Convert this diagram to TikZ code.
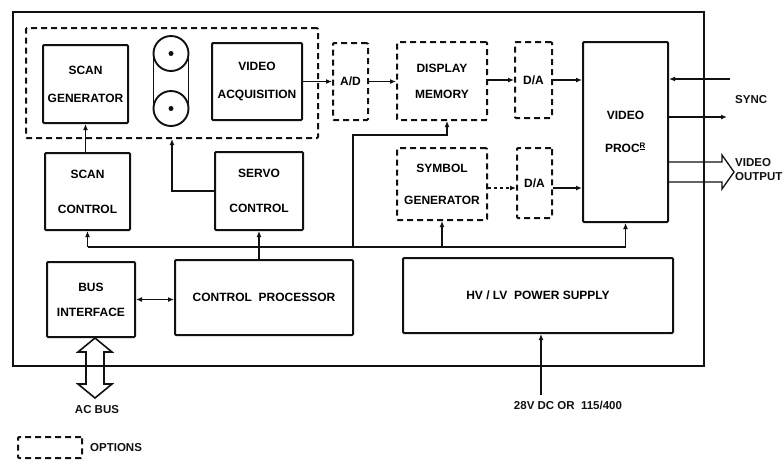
\documentclass[tikz,border=0pt]{standalone}
\usepackage{fontspec}
\setmainfont{Liberation Sans}
\usepackage{tikz}
\usetikzlibrary{arrows.meta, positioning, calc}
\definecolor{Ink}{HTML}{111111}

\begin{document}
\begin{tikzpicture}[x=1pt, y=-1pt,
    blk/.style={draw=Ink, line width=2pt, rounded corners=1pt, align=center, inner sep=0pt,
                font=\fontsize{12}{28}\selectfont\bfseries},
    opt/.style={blk, dash pattern=on 6pt off 4pt},
    ln/.style={draw=Ink, line width=1.3pt},
    tip/.style={ln, -{Latex[length=6pt, width=5pt]}},
    lbl/.style={font=\fontsize{11.5}{14}\selectfont\bfseries, align=left, inner sep=0pt, text=Ink}]
                \useasboundingbox (0,0) rectangle (784,459);

                % Outer unit frame
                \draw[ln, line width=1.6pt] (13,12) rectangle (704,366);

                % Optional sensor group
                \node[opt, minimum width=292pt, minimum height=110pt] (optbox) at (172,83) {};
                \node[blk, minimum width=85pt, minimum height=78pt] (scangen) at (85.5,84) {SCAN\\GENERATOR};
                \node[blk, minimum width=90pt, minimum height=77pt] (videoacq) at (257,81.5) {VIDEO\\ACQUISITION};

                % Tape reels
                \draw[ln, line width=1.9pt] (171,53.5) circle (17.5);
                \draw[ln, line width=1.9pt] (171,108.5) circle (17.5);
                \draw[ln, line width=1.9pt] (153.5,53.5) -- (153.5,108.5);
                \draw[ln, line width=1.9pt] (188.5,53.5) -- (188.5,108.5);
                \fill[Ink] (171,53.5) circle (2.5);
                \fill[Ink] (171,108.5) circle (2.5);

                % Video chain
                \node[opt, minimum width=35pt, minimum height=77pt] (ad) at (350.5,81.5) {A/D};
                \node[opt, minimum width=90pt, minimum height=78pt] (dispmem) at (442,81) {DISPLAY\\[-2pt]MEMORY};
                \node[opt, minimum width=37pt, minimum height=76pt] (da1) at (533.5,80) {D/A};
                \node[blk, minimum width=85pt, minimum height=180pt] (vproc) at (625.5,132) {VIDEO\\[5pt]PROC\textsuperscript{\underline{R}}};
                \node[opt, minimum width=90pt, minimum height=72pt] (symgen) at (442,184) {SYMBOL\\[4pt]GENERATOR};
                \node[opt, minimum width=35pt, minimum height=70pt] (da2) at (534.5,183) {D/A};

                % Signal path
                \coordinate (s2i) at ($(symgen.east)+(0,4)$);
                \coordinate (d2o) at ($(da2.east)+(0,5)$);
                \draw[tip] (videoacq.east) -- (ad.west);
                \draw[tip] (ad.east) -- (ad.east -| dispmem.west);
                \draw[tip] (dispmem.east |- da1.west) -- (da1.west);
                \draw[tip] (da1.east) -- (da1.east -| vproc.west);
                \draw[tip, dashed] (s2i) -- (s2i -| da2.west);
                \draw[tip] (d2o) -- (d2o -| vproc.west);

                % Control side
                \node[blk, minimum width=85pt, minimum height=77pt] (scanctl) at (87.5,191.5) {SCAN\\[7pt]CONTROL};
                \node[blk, minimum width=88pt, minimum height=78pt] (servoctl) at (259,191) {SERVO\\[7pt]CONTROL};
                \node[blk, minimum width=88pt, minimum height=75pt] (busif) at (91,299.5) {BUS\\[-3pt]INTERFACE};
                \node[blk, minimum width=178pt, minimum height=75pt] (ctlproc) at (264,297.5) {CONTROL\ \ PROCESSOR};
                \node[blk, minimum width=270pt, minimum height=75pt] (power) at (538,295.5) {HV / LV\ \ POWER SUPPLY};

                % Sync and video out
                \coordinate (sync1) at (730,79);
                \coordinate (sync2) at (727,117);
                \draw[tip] (sync1) -- (sync1 -| vproc.east);
                \draw[tip] (vproc.east |- sync2) -- (sync2);
                \node[lbl, anchor=west] (synclbl) at (735,100) {SYNC};
                \draw[ln] (vproc.east |- 0,162) -- (722,162) -- (722,155) -- (734,172) -- (722,189) -- (722,182) -- (vproc.east |- 0,182);
                \node[lbl, anchor=west] (vidout) at (735,170) {VIDEO\\OUTPUT};

                % Common bus
                \coordinate (busL) at (scanctl.south |- 0,247);
                \coordinate (tap) at (353,135);
                \draw[ln] (busL) -- (vproc.south |- busL);
                \draw[tip] (busL) -- (scanctl.south);
                \draw[tip] (servoctl.south |- busL) -- (servoctl.south);
                \draw[tip] (symgen.south |- busL) -- (symgen.south);
                \draw[tip] (vproc.south |- busL) -- (vproc.south);
                \draw[ln] (servoctl.south |- busL) -- (servoctl.south |- ctlproc.north);
                \draw[tip] (tap |- busL) -- (tap) -| ($(dispmem.south)+(5,0)$);

                % Local links
                \draw[tip] (scangen.south |- scanctl.north) -- (scangen.south);
                \draw[tip] (servoctl.west) -| ($(optbox.south west)+(147,0)$);
                \draw[ln, {Latex[length=6pt, width=5pt]}-{Latex[length=6pt, width=5pt]}] (busif.east) -- (ctlproc.west |- busif.east);

                % Power input
                \coordinate (mains) at (541,395);
                \draw[tip] (mains) -- (mains |- power.south);
                \node[lbl, anchor=north] (mainslbl) at (568,401) {28V DC OR\ \ 115/400};

                % AC bus
                \draw[ln, line width=1.6pt] (95,338) -- (112,352) -- (104,352) -- (104,384) -- (112,384) -- (95,398)
                    -- (78,384) -- (86,384) -- (86,352) -- (78,352) -- cycle;
                \node[lbl, anchor=north] (acbus) at (97,405) {AC BUS};

                % Legend
                \node[opt, minimum width=64pt, minimum height=21pt] (legend) at (50,447.5) {};
                \node[lbl, anchor=west] (optlbl) at (90,448) {OPTIONS};
\end{tikzpicture}
\end{document}
